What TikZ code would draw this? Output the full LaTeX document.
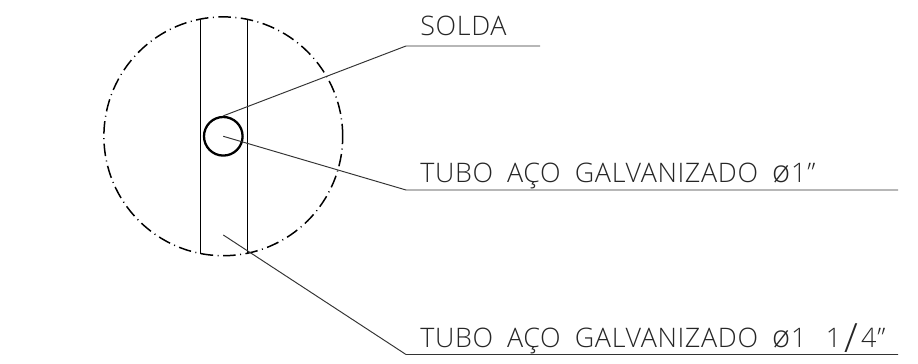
\documentclass[tikz,border=0pt]{standalone}
\usepackage{fontspec}
\setmainfont[LetterSpace=2.4,WordSpace=1.85]{Open Sans Light}
\usepackage{tikz}
\usetikzlibrary{calc,positioning}

\newcommand{\tallslash}{\kern2pt\raisebox{-0.2em}{\scalebox{1.5}{/}}\kern1.5pt}
\newcommand{\dia}{\scalebox{1.15}{ø}\kern0.5pt}

\tikzset{
	leader/.style={line width=0.55pt, color=black!80},
	edge line/.style={line width=0.65pt},
	callout/.style={anchor=base west, inner sep=0, font=\fontsize{15.3}{17}\selectfont, color=black!85}
}

\begin{document}
\begin{tikzpicture}
	\useasboundingbox (0, 0) rectangle (18.36, 7.28);

	% Detail circle and the pipe wall
	\draw[line width=0.85pt, dash pattern=on 0.25cm off 0.09cm on 0.02cm off 0.09cm] (4.466, 4.554) circle (2.388);
	\coordinate (wallAtop) at (4.01, 6.88);
	\coordinate (wallAbot) at (4.01, 2.2);
	\coordinate (wallBtop) at (4.95, 6.9);
	\coordinate (wallBbot) at (4.95, 2.22);
	\draw[edge line] (wallAtop) -- (wallAbot);
	\draw[edge line] (wallBtop) -- (wallBbot);

	% Inner pipe
	\node[circle, draw, line width=1.3pt, minimum size=0.772cm, inner sep=0] (pipe) at (4.466, 4.554) {};

	% Labels
	\node[callout] (solda) at (8.4, 6.56) {SOLDA};
	\node[callout] (tuboA) at (8.4, 3.63) {TUBO AÇO GALVANIZADO \dia 1\kern0.5pt”};
	\node[callout] (tuboB) at (8.4, 0.33) {TUBO AÇO GALVANIZADO \dia 1 \kern3pt1\tallslash 4\kern0.5pt”};

	% Leaders, from top to bottom
	\coordinate (soldaKnee) at (8.12, 6.36);
	\coordinate (soldaEnd) at (10.8, 6.36);
	\draw[leader] (pipe.north) -- (soldaKnee) -- (soldaEnd);
	\coordinate (tuboAKnee) at (8.12, 3.48);
	\coordinate (tuboAEnd) at (17.96, 3.48);
	\draw[leader] (pipe.center) -- (tuboAKnee) -- (tuboAEnd);
	\coordinate (tuboBTip) at (4.466, 2.58);
	\coordinate (tuboBKnee) at (8.12, 0.19);
	\coordinate (tuboBEnd) at (17.96, 0.19);
	\draw[leader] (tuboBTip) -- (tuboBKnee) -- (tuboBEnd);
\end{tikzpicture}
\end{document}
